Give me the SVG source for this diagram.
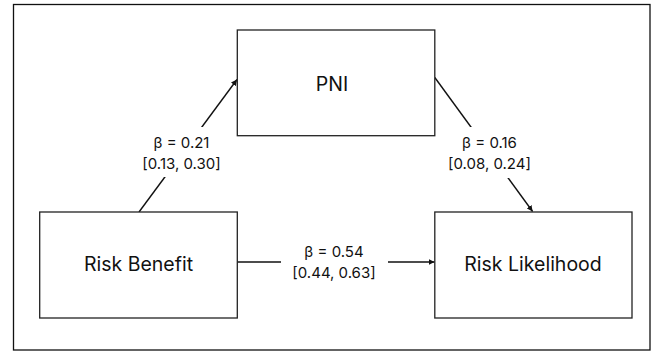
<svg xmlns="http://www.w3.org/2000/svg" width="655" height="352" viewBox="0 0 655 352">
<defs>
<marker id="arr" viewBox="0 0 10 10" refX="10" refY="5" markerWidth="6" markerHeight="6" markerUnits="userSpaceOnUse" orient="auto">
<path d="M0,0 L10,5 L0,10 z" fill="#111"/>
</marker>
<style>
.box{fill:#fff;stroke:#222;stroke-width:1.3}
.node{font-family:Inter,"Liberation Sans",Arial,sans-serif;font-size:19.5px;fill:#111;text-anchor:middle}
.lbl{font-family:Inter,"Liberation Sans",Arial,sans-serif;font-size:15px;fill:#111;text-anchor:middle}
.edge{stroke:#111;stroke-width:1.4;fill:none}
.bg{fill:#fff}
</style>
</defs>
<rect x="0" y="0" width="655" height="352" fill="#fff"/>
<rect x="13.5" y="4.5" width="636.5" height="345.5" fill="none" stroke="#111" stroke-width="1.3"/>
<g id="connectors">
<line class="edge" x1="139" y1="212" x2="237" y2="79.5" marker-end="url(#arr)"/>
<line class="edge" x1="434.8" y1="77.5" x2="532.6" y2="211.5" marker-end="url(#arr)"/>
<line class="edge" x1="237.3" y1="262" x2="434.5" y2="262" marker-end="url(#arr)"/>
<g id="label-a">
<rect class="bg" x="129" y="127" width="102" height="50"/>
<text class="lbl" x="181.5" y="147.5">β = 0.21</text>
<text class="lbl" x="181.5" y="168.5">[0.13, 0.30]</text>
</g>
<g id="label-b">
<rect class="bg" x="461" y="127" width="82" height="51"/>
<text class="lbl" x="489.5" y="147.5">β = 0.16</text>
<text class="lbl" x="489.5" y="168.5">[0.08, 0.24]</text>
</g>
<g id="label-c">
<rect class="bg" x="281" y="245" width="107" height="40"/>
<text class="lbl" x="334" y="256.5">β = 0.54</text>
<text class="lbl" x="334" y="277.5">[0.44, 0.63]</text>
</g>
</g>
<g id="pni">
<rect class="box" x="237.3" y="30" width="197.5" height="105.7"/>
<text class="node" x="332" y="90.5">PNI</text>
</g>
<g id="risk-benefit">
<rect class="box" x="39.7" y="212" width="197.6" height="106"/>
<text class="node" x="138.5" y="271">Risk Benefit</text>
</g>
<g id="risk-likelihood">
<rect class="box" x="434.8" y="212" width="197.2" height="106"/>
<text class="node" x="533" y="271">Risk Likelihood</text>
</g>
</svg>
